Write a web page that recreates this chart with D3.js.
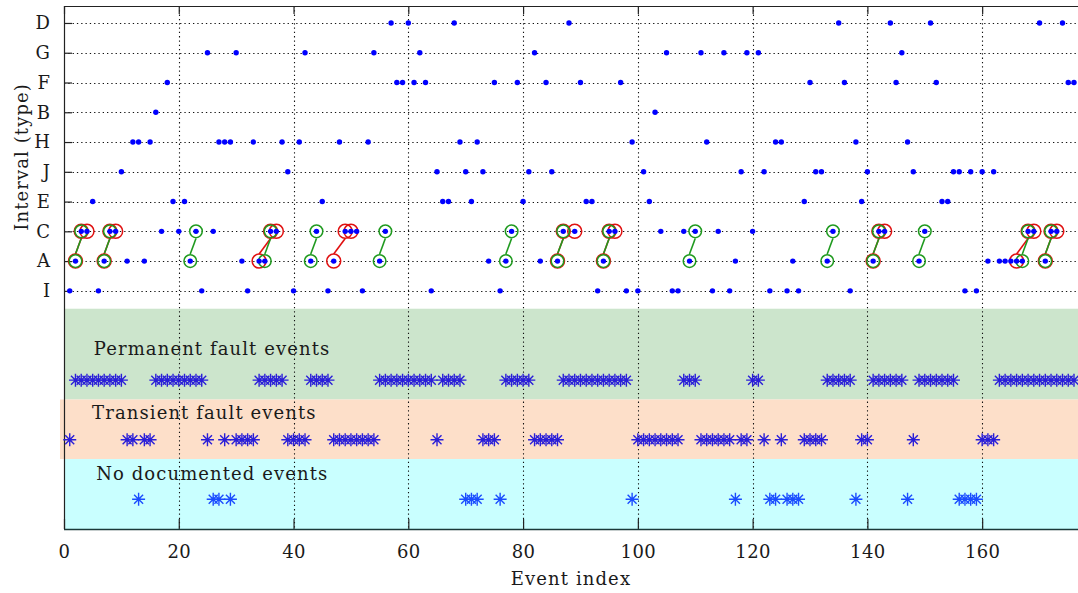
<!DOCTYPE html>
<html>
<head>
<meta charset="utf-8">
<script src="https://cdn.jsdelivr.net/npm/d3@7"></script>
<style>
  body { margin: 0; background: #fff; }
  svg { display: block; }
  text { font-family: "DejaVu Serif", serif; fill: #1a1a1a; }
</style>
</head>
<body>
<svg id="chart" width="1078" height="593"></svg>
<script>
// Interval types, bottom row first
const rowLabels = ["I", "A", "C", "E", "J", "H", "B", "F", "G", "D"];

// Event indices for each interval type
const typeI = [1, 6, 24, 32, 40, 46, 52, 64, 76, 93, 98, 100, 106, 107, 113, 116, 123, 126, 128, 137, 157, 159];
const typeA = [2, 7, 11, 14, 22, 31, 34, 35, 43, 47, 55, 74, 77, 83, 86, 94, 109, 117, 127, 133, 141, 149, 161, 163, 164, 165, 166, 167, 171];
const typeC = [3, 4, 8, 9, 17, 20, 23, 26, 36, 37, 44, 49, 50, 51, 56, 78, 87, 89, 95, 96, 104, 108, 110, 114, 120, 134, 142, 143, 150, 168, 169, 172, 173];
const typeE = [5, 19, 21, 45, 66, 67, 71, 80, 91, 92, 102, 129, 139, 153, 154];
const typeJ = [10, 39, 65, 70, 73, 81, 85, 101, 118, 122, 131, 132, 140, 148, 155, 156, 158, 160, 162];
const typeH = [12, 13, 15, 27, 28, 29, 33, 38, 41, 48, 53, 69, 72, 99, 112, 124, 125, 138, 147];
const typeB = [16, 103];
const typeF = [18, 58, 59, 61, 63, 75, 79, 84, 90, 97, 130, 136, 145, 152, 175, 176];
const typeG = [25, 30, 42, 54, 62, 82, 105, 111, 115, 119, 121, 146];
const typeD = [57, 60, 68, 88, 135, 144, 151, 170, 174];

// A -> C transitions (A event, C event)
const greenLinks = [[2, 3], [7, 8], [22, 23], [35, 36], [43, 44], [55, 56], [77, 78], [86, 87], [94, 95],
                    [109, 110], [133, 134], [141, 142], [149, 150], [167, 168], [171, 172]];
// A -> C -> C sequences (A event, first C, second C)
const redLinks = [[2, 3, 4], [7, 8, 9], [34, 36, 37], [47, 49, 50], [86, 87, 89], [94, 95, 96],
                  [141, 142, 143], [166, 168, 169], [171, 172, 173]];

// Fault classification of each event
const permanentEvents = [2, 3, 4, 5, 6, 7, 8, 9, 10, 16, 17, 18, 19, 20, 21, 22, 23, 24, 34, 35, 36, 37, 38,
  43, 44, 45, 46, 55, 56, 57, 58, 59, 60, 61, 62, 63, 64, 66, 67, 68, 69, 77, 78, 79, 80, 81,
  87, 88, 89, 90, 91, 92, 93, 94, 95, 96, 97, 98, 108, 109, 110, 120, 121, 133, 134, 135, 136, 137,
  141, 142, 143, 144, 145, 146, 149, 150, 151, 152, 153, 154, 155,
  163, 164, 165, 166, 167, 168, 169, 170, 171, 172, 173, 174, 175, 176];
const transientEvents = [1, 11, 12, 14, 15, 25, 28, 30, 31, 32, 33, 39, 40, 41, 42, 47, 48, 49, 50, 51, 52, 53, 54,
  65, 73, 74, 75, 82, 83, 84, 85, 86, 100, 101, 102, 103, 104, 105, 106, 107, 111, 112, 113, 114, 115, 116,
  118, 119, 122, 125, 129, 130, 131, 132, 139, 140, 148, 160, 161, 162];
const undocumentedEvents = [13, 26, 27, 29, 70, 71, 72, 76, 99, 117, 123, 124, 126, 127, 128, 138, 147, 156, 157, 158, 159];

const xTicks = [0, 20, 40, 60, 80, 100, 120, 140, 160];

// Class bands
const bandNames = ["Permanent fault events", "Transient fault events", "No documented events"];
const bandTops = [-0.6, -3.65, -5.65];
const bandBottoms = [-3.65, -5.65, -8];
const bandRows = [-3, -5, -7];
const bandLabelY = [-2, -4.13, -6.17];
const bandLabelX = [5.2, 4.9, 5.6];

(function draw() {
  const typeEvents = { I: typeI, A: typeA, C: typeC, E: typeE, J: typeJ, H: typeH, B: typeB, F: typeF, G: typeG, D: typeD };

  const svg = d3.select("#chart");
  const left = 64, right = 1078, plotTop = 6, plotBottom = 529;

  const x = d3.scaleLinear().domain([0, 176.7]).range([left, right]);
  const y = d3.scaleLinear().domain([-8, 9.57]).range([plotBottom, plotTop]);
  const rowY = t => y(rowLabels.indexOf(t));

  // background bands
  const bandFill = ["#cce5cc", "#fddfc9", "#c9ffff"];
  const bandStart = [0, -0.7, 0];
  svg.append("g").selectAll("rect").data(bandNames).join("rect")
    .attr("x", (d, i) => x(bandStart[i]))
    .attr("y", (d, i) => y(bandTops[i]))
    .attr("width", (d, i) => right - x(bandStart[i]))
    .attr("height", (d, i) => y(bandBottoms[i]) - y(bandTops[i]))
    .attr("fill", (d, i) => bandFill[i]);

  // dotted grid
  const grid = svg.append("g").attr("stroke", "#111").attr("stroke-width", 1.1).attr("stroke-dasharray", "1.3,3");
  grid.selectAll("line.h").data(rowLabels).join("line").attr("class", "h")
    .attr("x1", left).attr("x2", right)
    .attr("y1", d => Math.round(rowY(d)) + 0.5).attr("y2", d => Math.round(rowY(d)) + 0.5);
  grid.selectAll("line.v").data(xTicks.filter(v => v > 0)).join("line").attr("class", "v")
    .attr("x1", d => Math.round(x(d)) + 0.5).attr("x2", d => Math.round(x(d)) + 0.5)
    .attr("y1", plotTop).attr("y2", plotBottom);

  // axes
  const xAxisBottom = d3.axisBottom(x).tickValues(xTicks).tickSizeInner(-10).tickSizeOuter(0).tickPadding(16);
  const gxb = svg.append("g").attr("transform", `translate(0,${plotBottom})`).call(xAxisBottom);
  gxb.selectAll("text").attr("font-size", 18).attr("letter-spacing", 0.4);
  const xAxisTop = d3.axisTop(x).tickValues(xTicks).tickSizeInner(-8).tickSizeOuter(0).tickFormat("");
  svg.append("g").attr("transform", `translate(0,${plotTop})`).call(xAxisTop);
  const yAxis = d3.axisLeft(y).tickValues(rowLabels.map((d, i) => i)).tickFormat(i => rowLabels[i])
    .tickSizeInner(-8).tickSizeOuter(0).tickPadding(14);
  const gy = svg.append("g").attr("transform", `translate(${left},0)`).call(yAxis);
  gy.selectAll("text").attr("font-size", 18);
  svg.selectAll(".domain").remove();
  svg.selectAll(".tick line").attr("stroke", "#222").attr("stroke-width", 1.2);
  svg.selectAll("g.tick text").attr("font-family", "DejaVu Serif").attr("fill", "#1a1a1a");
  // frame lines
  svg.append("line").attr("x1", left).attr("x2", right).attr("y1", plotTop + 0.5).attr("y2", plotTop + 0.5).attr("stroke", "#222").attr("stroke-width", 1.2);
  svg.append("line").attr("x1", left).attr("x2", right).attr("y1", plotBottom + 0.5).attr("y2", plotBottom + 0.5).attr("stroke", "#1b3838").attr("stroke-width", 1.3);
  svg.append("line").attr("x1", left + 0.5).attr("x2", left + 0.5).attr("y1", plotTop).attr("y2", plotBottom).attr("stroke", "#222").attr("stroke-width", 1.2);

  // axis titles
  svg.append("text").attr("x", (left + right) / 2).attr("y", 585).attr("text-anchor", "middle")
    .attr("font-size", 18).attr("letter-spacing", 1.1).text("Event index");
  svg.append("text").attr("transform", `translate(28,${(y(0) + y(9)) / 2}) rotate(-90)`)
    .attr("text-anchor", "middle").attr("font-size", 18).attr("letter-spacing", 1.1).text("Interval (type)");

  // band labels
  svg.append("g").selectAll("text").data(bandNames).join("text")
    .attr("x", (d, i) => x(bandLabelX[i])).attr("y", (d, i) => y(bandLabelY[i]))
    .attr("dominant-baseline", "middle").attr("font-size", 18).attr("letter-spacing", 1.1)
    .text(d => d);

  // A -> C -> C sequences (red) and A -> C transitions (green)
  const off = 0.24;
  const links = svg.append("g");
  links.selectAll("line.r").data(redLinks).join("line").attr("class", "r")
    .attr("x1", d => x(d[0])).attr("y1", y(1 + off)).attr("x2", d => x(d[1])).attr("y2", y(2 - off))
    .attr("stroke", "#e01010").attr("stroke-width", 1.6);
  links.selectAll("line.g").data(greenLinks).join("line").attr("class", "g")
    .attr("x1", d => x(d[0])).attr("y1", y(1 + off)).attr("x2", d => x(d[1])).attr("y2", y(2 - off))
    .attr("stroke", "#1f9a1f").attr("stroke-width", 1.6);

  const redPts = redLinks.flatMap(d => [[d[0], "A"], [d[1], "C"], [d[2], "C"]]);
  const greenPts = greenLinks.flatMap(d => [[d[0], "A"], [d[1], "C"]]);
  links.selectAll("circle.r").data(redPts).join("circle").attr("class", "r")
    .attr("cx", d => x(d[0])).attr("cy", d => rowY(d[1])).attr("r", 7)
    .attr("fill", "none").attr("stroke", "#e01010").attr("stroke-width", 1.5);
  links.selectAll("circle.g").data(greenPts).join("circle").attr("class", "g")
    .attr("cx", d => x(d[0])).attr("cy", d => rowY(d[1])).attr("r", 6.3)
    .attr("fill", "none").attr("stroke", "#1f9a1f").attr("stroke-width", 1.5);

  // event dots per interval type
  const dots = rowLabels.flatMap(t => typeEvents[t].map(e => [e, t]));
  svg.append("g").selectAll("circle").data(dots).join("circle")
    .attr("cx", d => x(d[0])).attr("cy", d => rowY(d[1])).attr("r", 2.7).attr("fill", "#0000ff");

  // star markers for the fault classes
  const starPath = "M-6.5,0H6.5M0,-6.5V6.5M-4.5,-4.5L4.5,4.5M-4.5,4.5L4.5,-4.5";
  const starSets = [permanentEvents, transientEvents, undocumentedEvents];
  const starColor = ["#2a1ed8", "#2a1ed8", "#1a4cff"];
  starSets.forEach((set, i) => {
    svg.append("g").selectAll("path").data(set).join("path")
      .attr("transform", d => `translate(${x(d)},${y(bandRows[i])})`)
      .attr("d", starPath).attr("fill", "none").attr("stroke", starColor[i]).attr("stroke-width", 1.4);
  });
})();
</script>
</body>
</html>
